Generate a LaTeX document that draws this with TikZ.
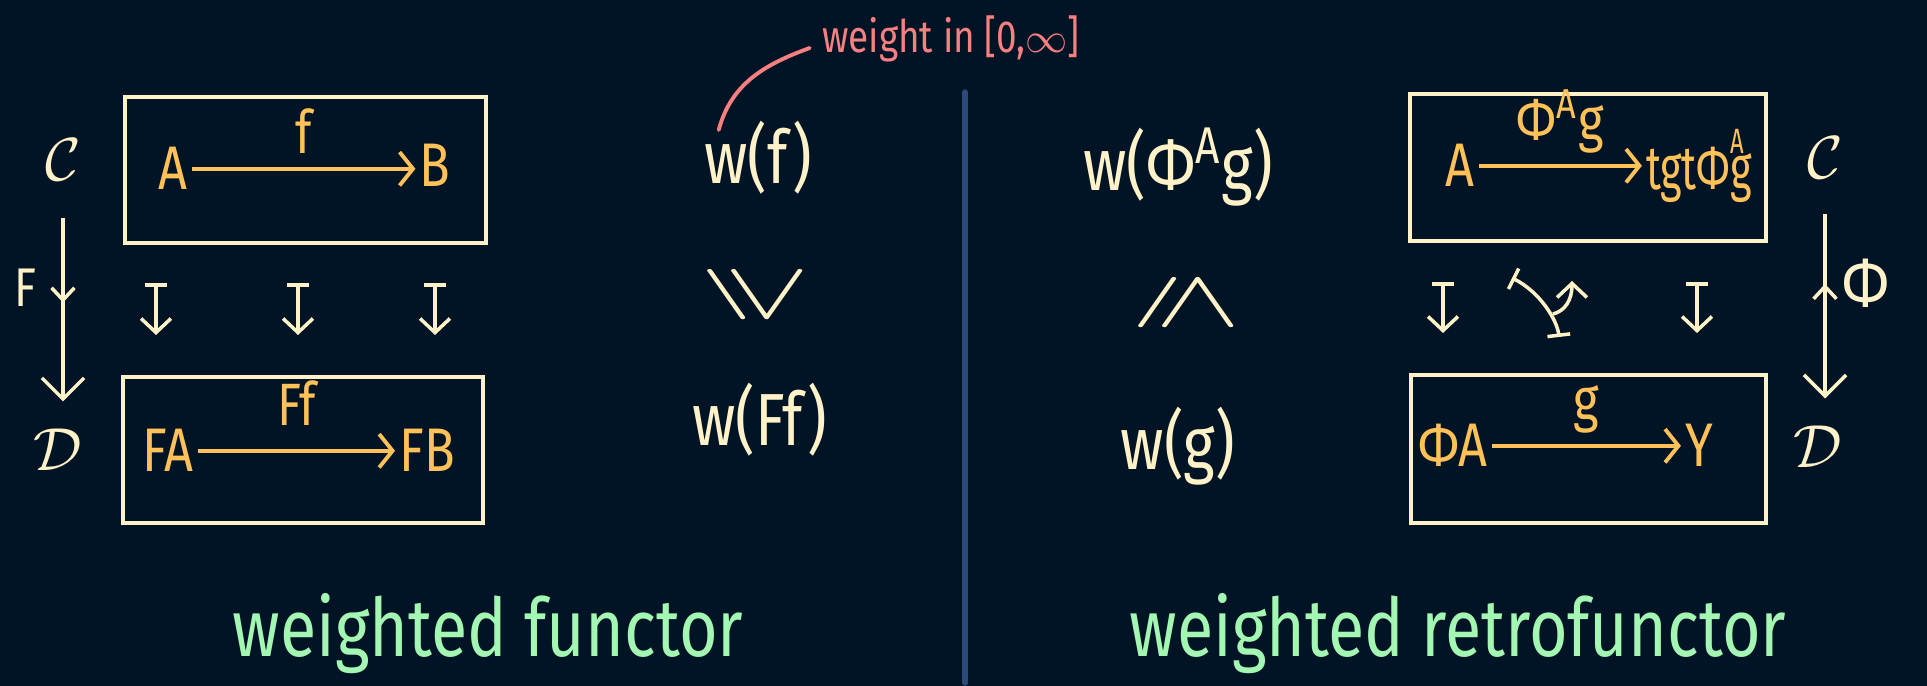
\documentclass[tikz,border=0pt]{standalone}
\usepackage{amssymb}
\usepackage{graphicx}
\usepackage{fontspec}
\setmainfont{Fira Sans}[FakeStretch=0.82]
\usetikzlibrary{arrows.meta, positioning, decorations.markings}
\definecolor{night}{RGB}{1, 20, 38}
\definecolor{cream}{RGB}{255, 242, 200}
\definecolor{gold}{RGB}{255, 193, 88}
\definecolor{salmon}{RGB}{248, 128, 128}
\definecolor{mint}{RGB}{163, 247, 178}
\definecolor{divider}{RGB}{44, 74, 122}

\begin{document}
\begin{tikzpicture}[x=0.01cm, y=0.01cm,
  catbox/.style={rectangle, draw=cream, line width=1.15pt, inner sep=0pt},
  obj/.style={text=gold, font=\fontsize{17.5}{20}\selectfont, inner sep=1pt, anchor=base},
  lbl/.style={text=gold, font=\fontsize{17}{20}\selectfont, inner sep=1pt},
  arr/.style={draw=gold, color=gold, line width=1.1pt, -{Straight Barb[length=3.8pt, width=9.5pt]}},
  wt/.style={text=cream, font=\fontsize{21}{25}\selectfont},
  cat/.style={text=cream, font=\fontsize{17}{20}\selectfont, inner sep=2pt},
  rel/.style={text=cream, font=\fontsize{35}{38}\selectfont},
  mapsto/.style={color=cream, line width=1pt, {Bar[width=6.5pt]}-{Straight Barb[length=4pt, width=8.5pt]}},
  fmap/.style={color=cream, line width=1pt, -{Straight Barb[length=6pt, width=12pt]},
    postaction={decorate}},
  midup/.style={decoration={markings, mark=at position #1 with {\arrowreversed{Straight Barb[length=3.5pt, width=6.5pt]}}}},
  middown/.style={decoration={markings, mark=at position #1 with {\arrow{Straight Barb[length=3.5pt, width=6.5pt]}}}},
  title/.style={text=mint, font=\fontsize{23}{28}\selectfont, anchor=base}]

% Background
\path[use as bounding box, fill=night] (0,0) rectangle (1927,-686);

% Divider
\draw[divider, line width=1.5pt, line cap=round] (965,-92) -- (965,-683);

% ---- weighted functor ----
\node[cat] (C1) at (63,-160) {$\mathcal{C}$};
\node[cat] (D1) at (58,-450) {$\mathcal{D}$};
\node[cat, font=\fontsize{15.5}{18}\selectfont] (F1) at (25,-288) {F};
\draw[fmap, middown=0.49, shorten <=0.29cm, shorten >=0.2cm] (C1.south) -- (C1.south |- D1.north);

% Boxes
\node[catbox, minimum width=3.61cm, minimum height=1.46cm] (box1) at (305.5,-170) {};
\node[catbox, minimum width=3.60cm, minimum height=1.46cm] (box2) at (303,-450) {};

% Objects and arrows
\node[obj] (A1) at (173,-190) {A};
\node[obj] (B1) at (435,-187) {B};
\draw[arr] (A1.east) -- (A1.east -| B1.west) node[lbl, midway, above=2.7pt] (f1) {f};
\node[obj] (FA1) at (168,-472) {FA};
\node[obj] (FB1) at (427,-472) {FB};
\draw[arr] (FA1.east) -- (FA1.east -| FB1.west) node[lbl, midway, above=5.5pt] (Ff1) {Ff};

% Maps-to arrows
\foreach \x [count=\i] in {156, 298, 435} {
  \coordinate (s\i) at (\x,-283);
  \coordinate (t\i) at (\x,-335);
  \draw[mapsto] (s\i) -- (t\i);
}

% Weights
\node[wt] (wf) at (758,-158) {w(f)};
\node[rel] (ge) at (755,-295) {\rotatebox{-90}{\scalebox{0.67}[1]{$\geqslant$}}};
\node[wt] (wFf) at (760,-420) {w(Ff)};
\node[text=salmon, font=\fontsize{12.8}{15}\selectfont, anchor=base] (wlabel) at (951,-53) {weight in [0,$\infty$]};
\draw[salmon, line width=1.1pt, line cap=round] ([yshift=0.05cm]wlabel.base west) to[out=200, in=75] ([xshift=0.27cm, yshift=0.28cm]wf.west);

% ---- weighted retrofunctor ----
\node[wt] (wPg) at (1178,-167) {w(Φ\textsuperscript{A}g)};
\node[rel] (le) at (1186,-303) {\rotatebox{-90}{\scalebox{0.67}[1]{$\leqslant$}}};
\node[wt] (wg) at (1178,-446) {w(g)};

% Boxes
\node[catbox, minimum width=3.56cm, minimum height=1.47cm] (box3) at (1588,-167.5) {};
\node[catbox, minimum width=3.55cm, minimum height=1.48cm] (box4) at (1588.5,-449) {};

% Objects and arrows
\node[obj] (A2) at (1460,-187) {A};
\node[obj] (T2) at (1699,-190) {\scalebox{0.82}[1]{tgtΦ\rlap{\raisebox{0.6em}{\fontsize{10}{12}\selectfont A}}g}};
\draw[arr] (A2.east) -- (A2.east -| T2.west) node[lbl, midway, above=2pt] (Pg2) {Φ\textsuperscript{A}g};
\node[obj] (PA2) at (1453,-467) {ΦA};
\node[obj] (Y2) at (1699,-467) {Y};
\draw[arr] (PA2.east) -- (PA2.east -| Y2.west) node[lbl, midway, above=2pt] (g2) {g};

% Maps-to arrows
\foreach \x [count=\i from 4] in {1443, 1697} {
  \coordinate (s\i) at (\x,-282);
  \coordinate (t\i) at (\x,-333);
  \draw[mapsto] (s\i) -- (t\i);
}

% Lifting
\coordinate (lb) at (1559,-337);
\coordinate (lt) at (1512,-278);
\coordinate (lm) at (1553,-314);
\coordinate (lh) at (1572,-281);
\draw[color=cream, line width=1pt, {Bar[width=6.5pt]}-{Bar[width=6.5pt]}] (lb) .. controls (1557,-320) and (1540,-292) .. (lt);
\draw[color=cream, line width=1pt, -{Straight Barb[length=4pt, width=8.5pt]}] (lm) .. controls (1565,-311) and (1572,-300) .. (lh);

\node[cat] (C2) at (1825,-158) {$\mathcal{C}$};
\node[cat] (D2) at (1818,-447) {$\mathcal{D}$};
\node[cat, font=\fontsize{20}{24}\selectfont] (P2) at (1866,-283) {Φ};
\draw[fmap, midup=0.42, shorten <=0.27cm, shorten >=0.2cm] (C2.south) -- (C2.south |- D2.north);

% Titles
\node[title] (t1) at (488,-657) {weighted functor};
\node[title] (t2) at (1458,-657) {weighted retrofunctor};

\end{tikzpicture}
\end{document}
